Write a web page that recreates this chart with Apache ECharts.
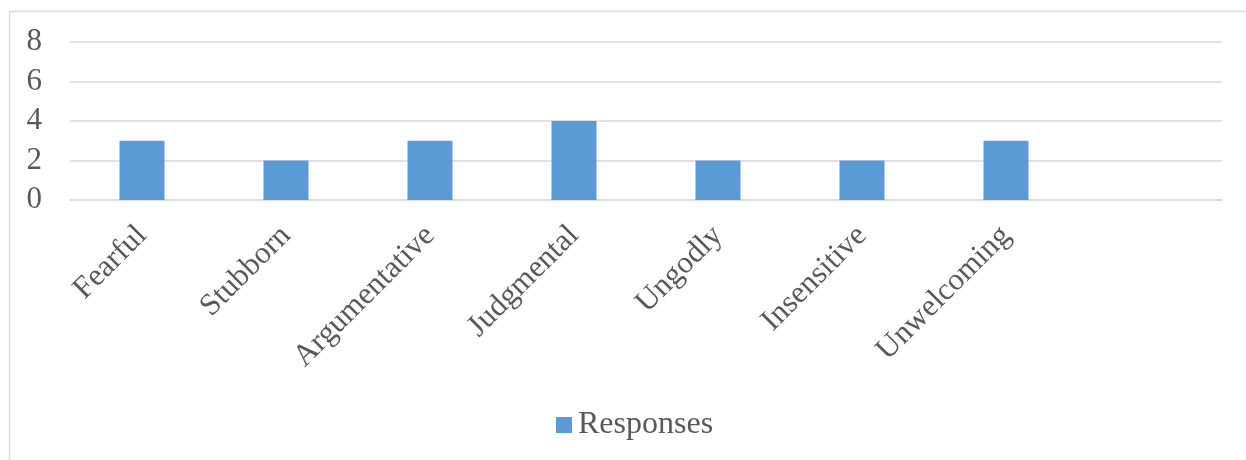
<!DOCTYPE html>
<html>
<head>
<meta charset="utf-8">
<script src="https://cdn.jsdelivr.net/npm/echarts@6/dist/echarts.min.js"></script>
<style>
  html, body { margin: 0; padding: 0; background: #ffffff; }
  #chart { width: 1246px; height: 460px; }
</style>
</head>
<body>
<div id="chart"></div>
<script>
// Categories (last slot is an empty category)
const categories = ['Fearful', 'Stubborn', 'Argumentative', 'Judgmental', 'Ungodly', 'Insensitive', 'Unwelcoming', ''];
// Number of responses per category
const responses = [3, 2, 3, 4, 2, 2, 3, null];
const seriesName = 'Responses';

const textColor = '#595959';
const fontFamily = '"Liberation Serif", "Times New Roman", serif';

const chart = echarts.init(document.getElementById('chart'));
chart.setOption({
  animation: false,
  backgroundColor: '#ffffff',
  graphic: [{
    type: 'rect',
    shape: { x: 9.5, y: 11.5, width: 1250, height: 460 },
    style: { fill: 'none', stroke: '#d9d9d9', lineWidth: 1.5 },
    silent: true,
    z: -1
  }],
  grid: { left: 70, right: 24, top: 42, bottom: 260 },
  legend: {
    data: [seriesName],
    bottom: 14,
    left: 551,
    icon: 'rect',
    itemWidth: 16,
    itemHeight: 16,
    itemGap: 9,
    textStyle: { color: textColor, fontSize: 32, fontFamily: fontFamily, padding: [0, 0, 0, 1] }
  },
  xAxis: {
    type: 'category',
    data: categories,
    axisLine: { show: true, lineStyle: { color: '#d9d9d9', width: 1.5 } },
    axisTick: { show: false },
    axisLabel: {
      interval: 0,
      rotate: 45,
      margin: 31,
      color: textColor,
      fontSize: 31,
      fontFamily: fontFamily
    }
  },
  yAxis: {
    type: 'value',
    min: 0,
    max: 8,
    interval: 2,
    axisLine: { show: false },
    axisTick: { show: false },
    splitLine: { lineStyle: { color: '#d9d9d9', width: 1.5 } },
    axisLabel: {
      margin: 28,
      color: textColor,
      fontSize: 31,
      fontFamily: fontFamily
    }
  },
  series: [{
    name: seriesName,
    type: 'bar',
    data: responses,
    barWidth: 45,
    itemStyle: { color: '#5b9bd5' }
  }]
});
</script>
</body>
</html>
